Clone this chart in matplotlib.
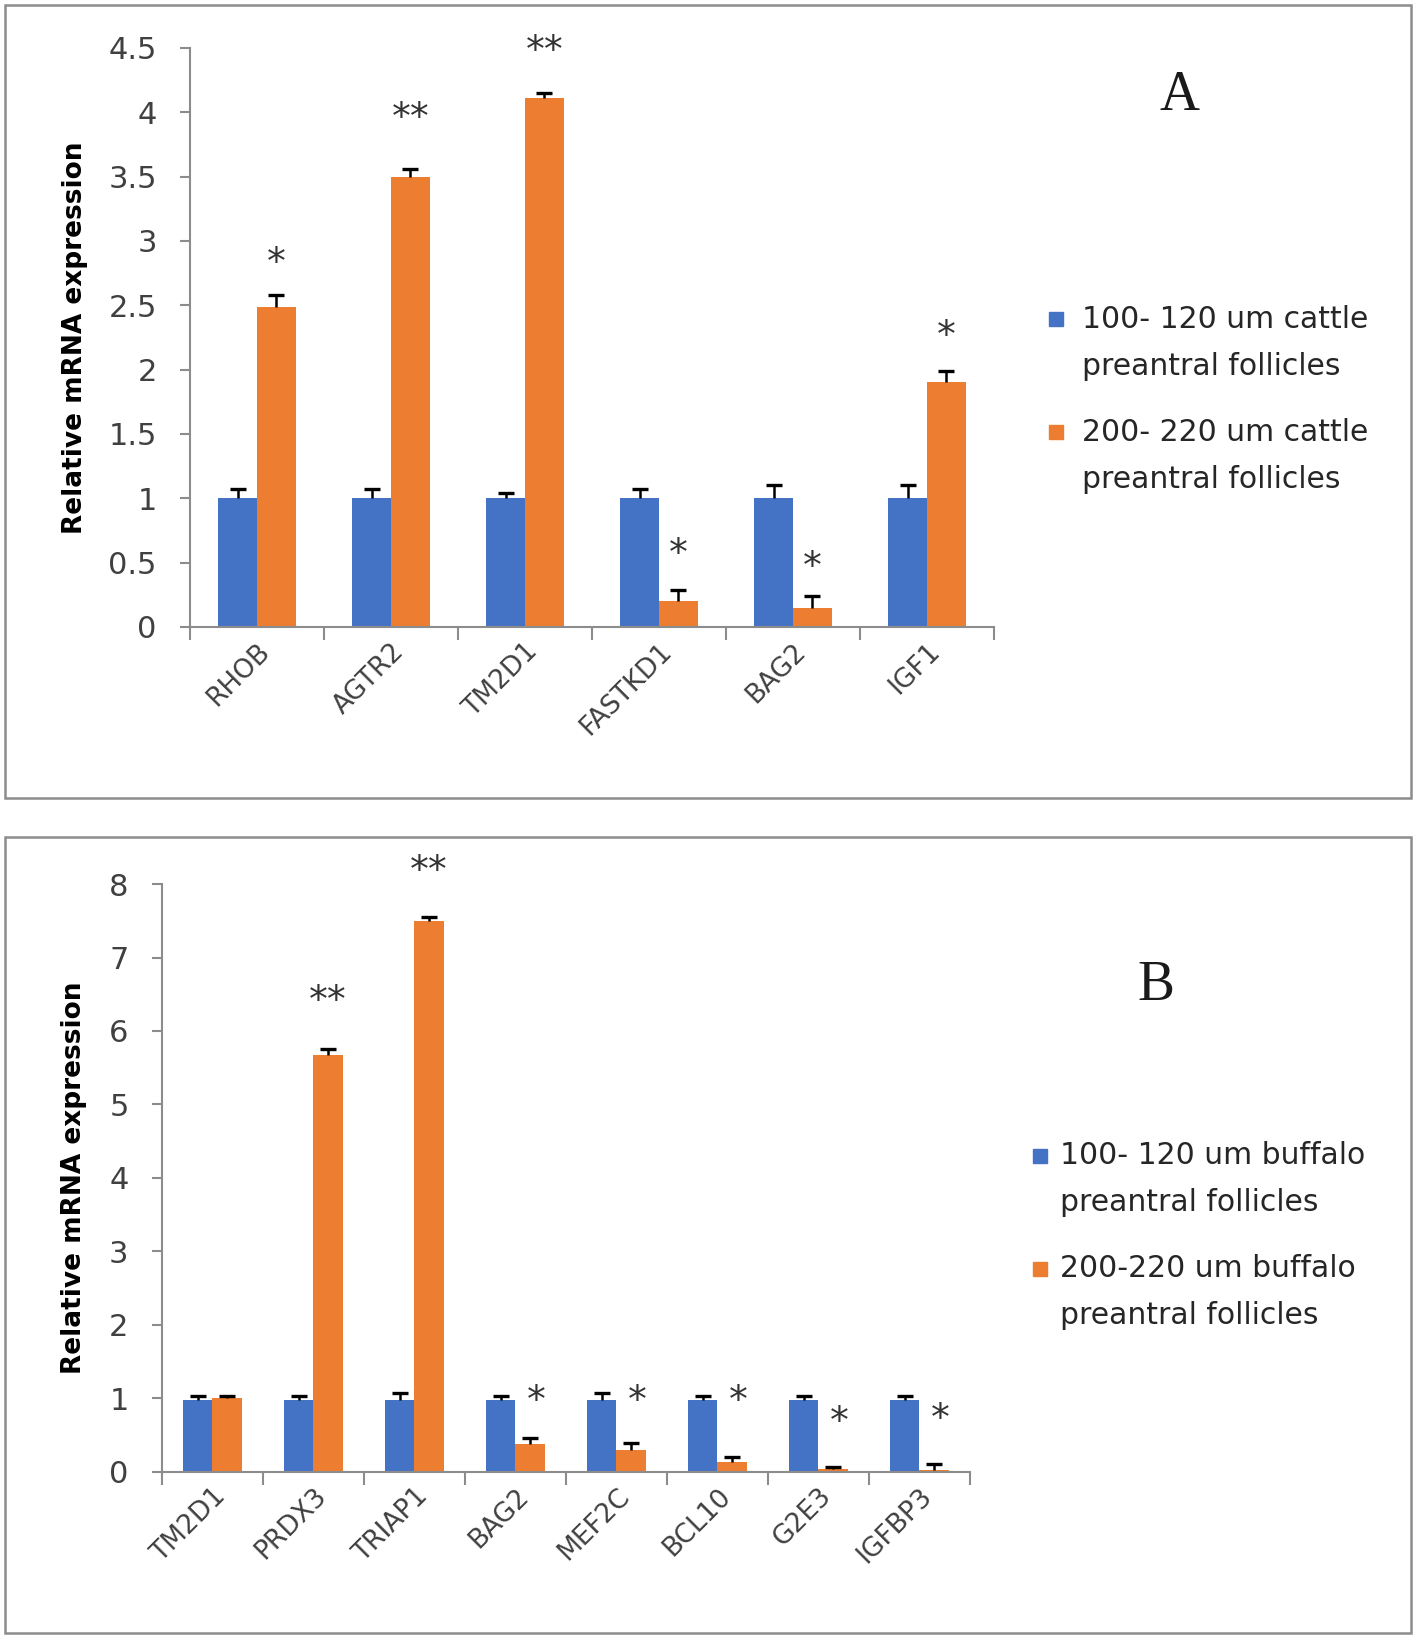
import matplotlib
matplotlib.use("Agg")
import matplotlib.pyplot as plt
import numpy as np
from matplotlib.patches import Rectangle

plt.rcParams['font.family'] = ['DejaVu Sans']

BLUE = '#4472C4'
ORANGE = '#ED7D31'
GREY = '#8c8c8c'
TXT = '#404040'

# panel A - cattle
genes_a = ['RHOB', 'AGTR2', 'TM2D1', 'FASTKD1', 'BAG2', 'IGF1']
small_a = [1.0, 1.0, 1.0, 1.0, 1.0, 1.0]
small_a_err = [0.07, 0.07, 0.04, 0.07, 0.10, 0.10]
large_a = [2.49, 3.50, 4.11, 0.20, 0.15, 1.90]
large_a_err = [0.09, 0.06, 0.04, 0.09, 0.09, 0.09]
stars_a = ['*', '**', '**', '*', '*', '*']
star_y_a = [2.82, 3.95, 4.47, 0.56, 0.46, 2.25]
labels_a = ['100- 120 um cattle\npreantral follicles',
            '200- 220 um cattle\npreantral follicles']

# panel B - buffalo
genes_b = ['TM2D1', 'PRDX3', 'TRIAP1', 'BAG2', 'MEF2C', 'BCL10', 'G2E3', 'IGFBP3']
small_b = [0.98, 0.98, 0.98, 0.98, 0.98, 0.98, 0.98, 0.98]
small_b_err = [0.05, 0.05, 0.10, 0.05, 0.10, 0.05, 0.05, 0.05]
large_b = [1.00, 5.68, 7.50, 0.38, 0.30, 0.13, 0.04, 0.03]
large_b_err = [0.03, 0.07, 0.05, 0.08, 0.10, 0.07, 0.03, 0.08]
stars_b = ['', '**', '**', '*', '*', '*', '*', '*']
star_y_b = [0, 6.39, 8.17, 0.95, 0.95, 0.95, 0.67, 0.71]
star_dx_b = [0, 0, 0, 0.06, 0.06, 0.06, 0.06, 0.06]
labels_b = ['100- 120 um buffalo\npreantral follicles',
            '200-220 um buffalo\npreantral follicles']


def up_errorbar(ax, x, y, err):
    # excel style: only the upper whisker and cap
    _, caps, _ = ax.errorbar(x, y, yerr=[np.zeros(len(x)), err], fmt='none',
                             ecolor='black', elinewidth=1.8, capsize=6,
                             capthick=2.4, zorder=3)
    caps[0].set_visible(False)


def draw_panel(ax, genes, small, small_err, large, large_err, stars, star_y,
               star_dx, ymax, yticks, ytick_labels, label_x):
    x = np.arange(len(genes))
    w = 0.29
    ax.bar(x - w / 2, small, w, color=BLUE)
    ax.bar(x + w / 2, large, w, color=ORANGE)
    up_errorbar(ax, x - w / 2, small, small_err)
    up_errorbar(ax, x + w / 2, large, large_err)
    for xi, s, sy, dx in zip(x, stars, star_y, star_dx):
        if s:
            ax.text(xi + w / 2 + dx, sy, s, ha='center', va='center',
                    fontsize=27, color='#333333', clip_on=False)
    ax.set_xlim(-0.5, len(genes) - 0.5)
    ax.set_ylim(0, ymax)
    ax.set_yticks(yticks)
    ax.set_yticklabels(ytick_labels, fontsize=22, color=TXT)
    ax.set_xticks(x)
    ax.set_xticklabels(genes, rotation=45, ha='right', rotation_mode='anchor',
                       fontsize=19, color=TXT)
    ax.set_xticks(np.arange(-0.5, len(genes)), minor=True)
    ax.tick_params(axis='x', which='major', length=0, pad=8)
    ax.tick_params(axis='x', which='minor', length=9, color=GREY, width=1.5)
    ax.tick_params(axis='y', length=7, color=GREY, width=1.5, pad=17)
    for side in ['top', 'right']:
        ax.spines[side].set_visible(False)
    for side in ['left', 'bottom']:
        ax.spines[side].set_color(GREY)
        ax.spines[side].set_linewidth(1.5)
    ax.set_ylabel('Relative mRNA expression', fontsize=19, fontweight='bold',
                  color='black')
    ax.yaxis.set_label_coords(label_x, 0.5)


def draw_legend(fig, labels, colors, x_sq, x_txt, y_first, line_gap, entry_gap):
    sq_w, sq_h = 14 / 1418, 14 / 1641
    for i, (lab, col) in enumerate(zip(labels, colors)):
        y0 = y_first - i * entry_gap
        fig.patches.append(Rectangle((x_sq - sq_w / 2, y0 - sq_h / 2), sq_w, sq_h,
                                     transform=fig.transFigure, color=col))
        for j, line in enumerate(lab.split('\n')):
            fig.text(x_txt, y0 - j * line_gap, line, fontsize=21.5, color='#262626',
                     ha='left', va='center')


fig = plt.figure(figsize=(14.18, 16.41), dpi=100)

# panel frames
fig.patches.append(Rectangle((0.0035, 0.514), 0.9915, 0.483, transform=fig.transFigure,
                             fill=False, edgecolor=GREY, linewidth=1.8))
fig.patches.append(Rectangle((0.0035, 0.005), 0.9915, 0.485, transform=fig.transFigure,
                             fill=False, edgecolor=GREY, linewidth=1.8))

ax_a = fig.add_axes([0.134, 0.618, 0.567, 0.3528])
draw_panel(ax_a, genes_a, small_a, small_a_err, large_a, large_a_err, stars_a,
           star_y_a, [0] * 6, 4.5, np.arange(0, 4.51, 0.5),
           ['0', '0.5', '1', '1.5', '2', '2.5', '3', '3.5', '4', '4.5'], -0.1275)

ax_b = fig.add_axes([0.1142, 0.103, 0.5698, 0.3583])
draw_panel(ax_b, genes_b, small_b, small_b_err, large_b, large_b_err, stars_b,
           star_y_b, star_dx_b, 8, np.arange(0, 9), [str(i) for i in range(9)],
           -0.0925)

draw_legend(fig, labels_a, [BLUE, ORANGE], 0.745, 0.763, 0.8056, 0.0287, 0.0689)
draw_legend(fig, labels_b, [BLUE, ORANGE], 0.7334, 0.7475, 0.2956, 0.0283, 0.0689)

fig.text(0.832, 0.9415, 'A', fontsize=40, family='Liberation Serif',
         ha='center', va='center', color='#1a1a1a')
fig.text(0.815, 0.399, 'B', fontsize=40, family='Liberation Serif',
         ha='center', va='center', color='#1a1a1a')

fig.savefig('out.png', dpi=100)
